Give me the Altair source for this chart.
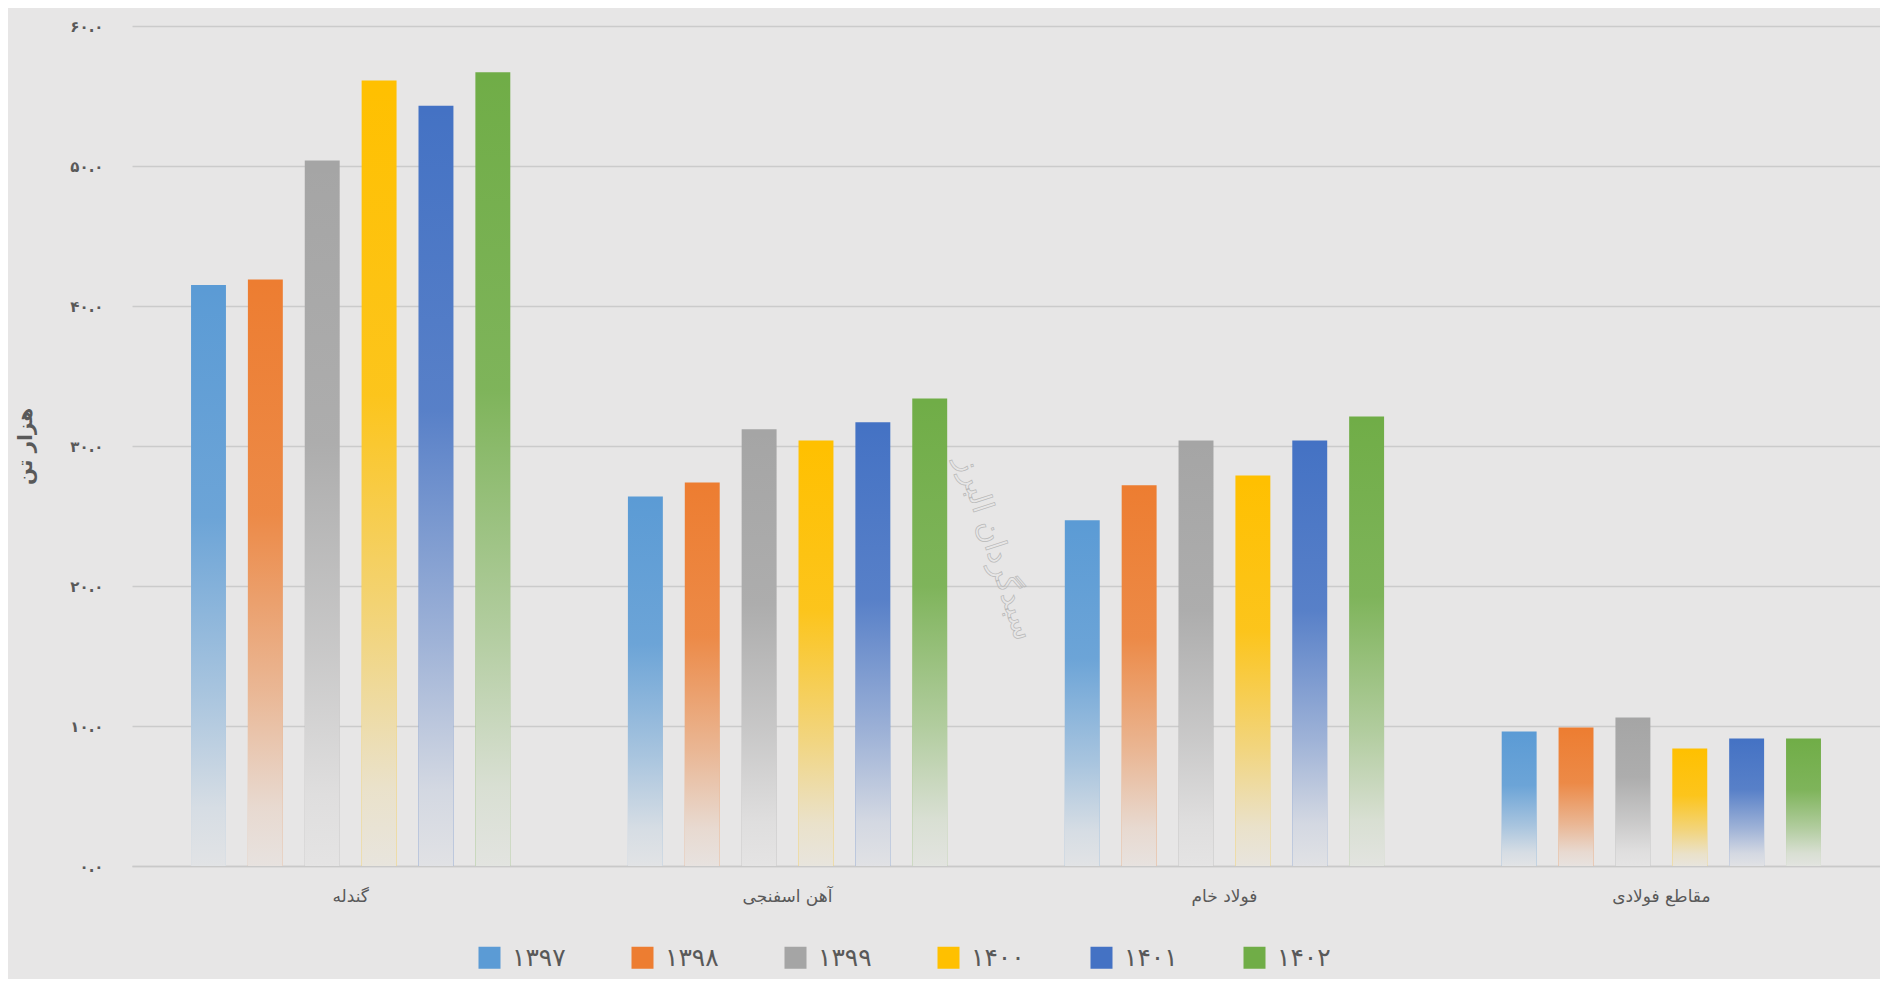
import altair as alt
import pandas as pd

categories = ["گندله", "آهن اسفنجی", "فولاد خام", "مقاطع فولادی"]
years = ["۱۳۹۷", "۱۳۹۸", "۱۳۹۹", "۱۴۰۰", "۱۴۰۱", "۱۴۰۲"]
v1397 = [41.5, 26.4, 24.7, 9.6]
v1398 = [41.9, 27.4, 27.2, 9.9]
v1399 = [50.4, 31.2, 30.4, 10.6]
v1400 = [56.1, 30.4, 27.9, 8.4]
v1401 = [54.3, 31.7, 30.4, 9.1]
v1402 = [56.7, 33.4, 32.1, 9.1]
colors = ["#5B9BD5", "#ED7D31", "#A5A5A5", "#FFC000", "#4472C4", "#70AD47"]
y_ticks = [0, 10, 20, 30, 40, 50, 60]
y_tick_labels = ["۰.۰", "۱۰.۰", "۲۰.۰", "۳۰.۰", "۴۰.۰", "۵۰.۰", "۶۰.۰"]
y_title = "هزار تن"
watermark_text = "سبدگردان البرز"

series = [v1397, v1398, v1399, v1400, v1401, v1402]
rows = []
for yr, vals in zip(years, series):
    for cat, v in zip(categories, vals):
        rows.append({"category": cat, "year": yr, "value": v})
df = pd.DataFrame(rows)

label_expr = " : ".join(
    f"datum.value == {t} ? '{l}'" for t, l in zip(y_ticks, y_tick_labels)
) + " : ''"

BG = "#E7E6E6"
FONT = "DejaVu Sans"
TXT = "#595959"

base = alt.Chart(df).encode(
    x=alt.X(
        "category:N",
        sort=categories,
        scale=alt.Scale(paddingInner=0.219, paddingOuter=0.11),
        axis=alt.Axis(
            title=None, labelAngle=0, ticks=False, grid=False,
            domain=True, domainColor="#c9c9c9", domainWidth=1.5,
            labelFont=FONT, labelFontSize=17, labelColor=TXT, labelPadding=22,
        ),
    ),
    xOffset=alt.XOffset(
        "year:N", sort=years,
        scale=alt.Scale(paddingInner=0.386, paddingOuter=0.193),
    ),
    y=alt.Y(
        "value:Q",
        scale=alt.Scale(domain=[0, 60], nice=False),
        axis=alt.Axis(
            title=y_title, values=y_ticks, labelExpr=label_expr,
            ticks=False, domain=False, grid=True,
            gridColor="#cbcbcb", gridWidth=1.5,
            labelFont=FONT, labelFontSize=15, labelColor=TXT,
            labelFontWeight="bold", labelPadding=29,
            titleFont=FONT, titleFontSize=20, titleColor=TXT,
            titleFontWeight="bold", titlePadding=34,
        ),
    ),
)

bars = base.mark_bar().encode(
    color=alt.Color(
        "year:N", sort=years,
        scale=alt.Scale(domain=years, range=colors),
        legend=alt.Legend(
            title=None, orient="none", legendX=345, legendY=919,
            direction="horizontal", symbolType="square", symbolSize=484,
            symbolStrokeWidth=0, labelFont=FONT, labelFontSize=25,
            labelColor=TXT, labelOffset=10, columnPadding=64, padding=0,
        ),
    )
)

fade = base.mark_bar(
    fill=alt.Gradient(
        gradient="linear", x1=0, x2=0, y1=0, y2=1,
        stops=[
            alt.GradientStop(color="rgba(231,230,230,0)", offset=0),
            alt.GradientStop(color="rgba(231,230,230,0.12)", offset=0.4),
            alt.GradientStop(color="rgba(231,230,230,0.55)", offset=0.7),
            alt.GradientStop(color="rgba(231,230,230,0.88)", offset=0.9),
            alt.GradientStop(color="rgba(231,230,230,0.96)", offset=1),
        ],
    )
)

wm = alt.Chart(pd.DataFrame({"t": [watermark_text]})).mark_text(
    font=FONT, fontSize=30, angle=72, fill="transparent",
    stroke="#b8b8b8", strokeWidth=0.7, align="center", baseline="middle",
).encode(text="t:N", x=alt.value(863), y=alt.YDatum(22.7))

chart = alt.layer(bars, fade, wm).properties(
    width=1748, height=840,
    autosize=alt.AutoSizeParams(type="none"),
    padding={"left": 124, "top": 18, "right": 0, "bottom": 113},
    background=BG,
).configure_view(stroke=None)

chart.save("out.html", embed_options={"renderer": "svg", "actions": False})
